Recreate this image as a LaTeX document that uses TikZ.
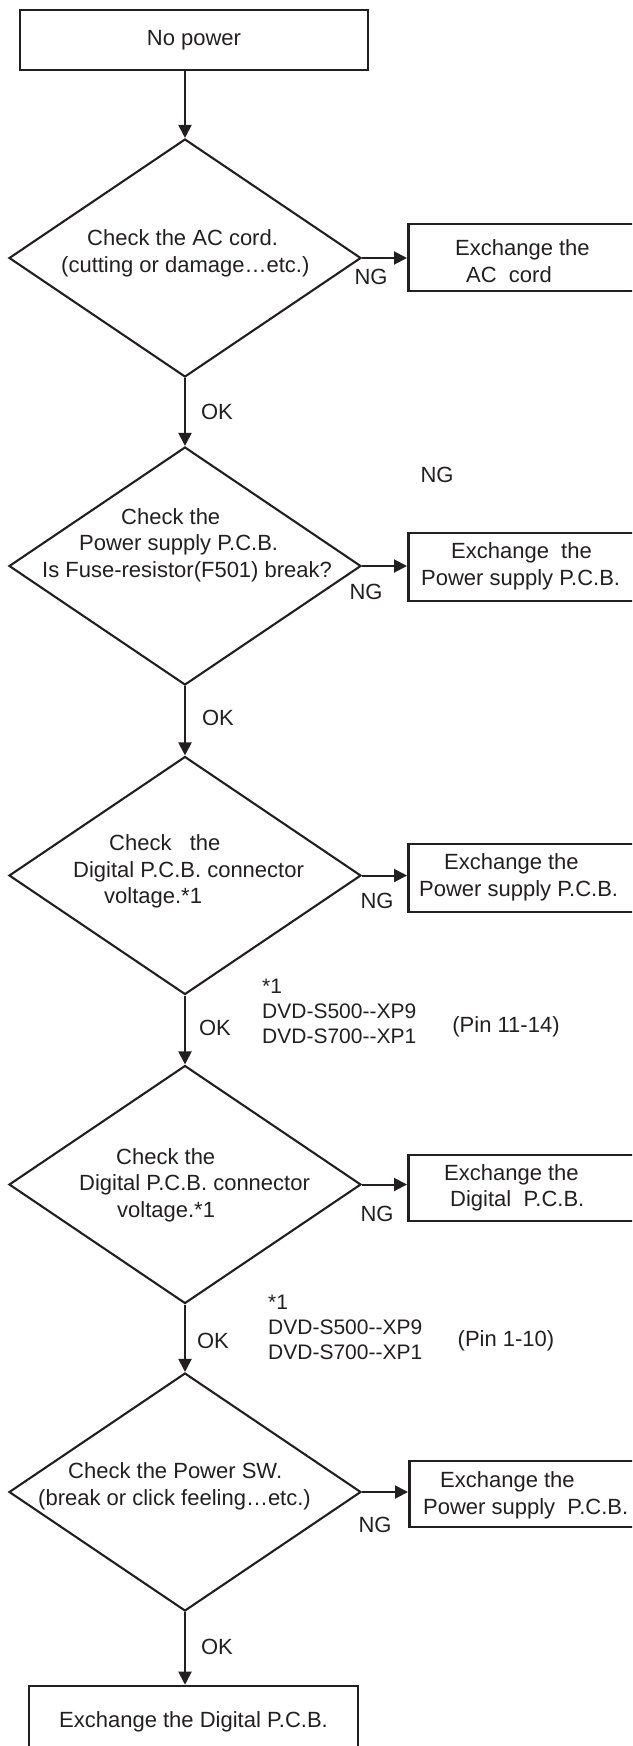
\documentclass[tikz,border=0pt]{standalone}
\usepackage{fontspec}
\setmainfont{Liberation Sans}
\usetikzlibrary{shapes.geometric,arrows.meta}
\definecolor{ink}{RGB}{35,31,32}
\begin{document}
\begin{tikzpicture}[x=1pt,y=-1pt,
  every node/.style={text=ink},
  arr/.style={draw=ink, line width=2pt, -{Triangle[length=13pt,width=13pt]}},
  dec/.style={diamond, draw=ink, line width=2.1pt, minimum width=352pt, minimum height=238pt, inner sep=0pt},
  rbox/.style={rectangle, draw=ink, line width=2.6pt, inner sep=0pt, font=\fontsize{22pt}{26.5pt}\selectfont},
  txt/.style={font=\fontsize{22pt}{26.5pt}\selectfont, inner sep=0pt, align=left, anchor=west},
  lbl/.style={font=\fontsize{22pt}{26.5pt}\selectfont, inner sep=0pt},
  fnote/.style={font=\fontsize{21pt}{25pt}\selectfont, inner sep=0pt, align=left, anchor=west}
]
\useasboundingbox (0,0) rectangle (632,1746);
\clip (0,0) rectangle (632,1746);

% start / end boxes
\node[rbox, minimum width=348pt, minimum height=60pt] (start) at (194,40) {No power};
\node[rbox, minimum width=329pt, minimum height=72pt] (fin) at (193.5,1722) {Exchange the Digital P.C.B.};

% decisions
\node[dec] (d1) at (185,258) {};
\node[dec] (d2) at (185,566) {};
\node[dec] (d3) at (185,875.5) {};
\node[dec] (d4) at (185,1184.5) {};
\node[dec] (d5) at (185,1492) {};

\node[txt] (d1t) at (61,253.5) {\hspace*{26pt}Check the AC cord.\\(cutting or damage…etc.)};
\node[txt] (d2t) at (42,545) {\hspace*{79pt}Check the\\\hspace*{37pt}Power supply P.C.B.\\Is Fuse-resistor(F501) break?};
\node[txt] (d3t) at (73,871.5) {\hspace*{36pt}Check\ \ \ the\\Digital P.C.B. connector\\\hspace*{31pt}voltage.*1};
\node[txt] (d4t) at (79,1185) {\hspace*{37pt}Check the\\Digital P.C.B. connector\\\hspace*{38pt}voltage.*1};
\node[txt] (d5t) at (38,1486.5) {\hspace*{30pt}Check the Power SW.\\(break or click feeling…etc.)};

% right-hand boxes
\node[rbox, anchor=west, minimum width=300pt, minimum height=67pt] (b1) at (407,257.5) {};
\node[rbox, anchor=west, minimum width=300pt, minimum height=68pt] (b2) at (407,567) {};
\node[rbox, anchor=west, minimum width=300pt, minimum height=68pt] (b3) at (407,878) {};
\node[rbox, anchor=west, minimum width=300pt, minimum height=66pt] (b4) at (407,1188) {};
\node[rbox, anchor=west, minimum width=300pt, minimum height=66pt] (b5) at (408,1494) {};

\node[txt] (b1t) at (455,261) {Exchange the\\\hspace*{11pt}AC\ \ cord};
\node[txt] (b2t) at (421,566.5) {\hspace*{30pt}Exchange\ \ the\\Power supply P.C.B.};
\node[txt] (b3t) at (419,877.5) {\hspace*{25pt}Exchange the\\Power supply P.C.B.};
\node[txt] (b4t) at (444,1188) {Exchange the\\\hspace*{6pt}Digital\ \ P.C.B.};
\node[txt] (b5t) at (423,1495.5) {\hspace*{17pt}Exchange the\\Power supply\ \ P.C.B.};

% connectors
\draw[arr] (d1.north |- start.south) -- (d1.north);
\draw[arr] (d1.south) -- (d2.north);
\draw[arr] (d2.south) -- (d3.north);
\draw[arr] (d3.south) -- (d4.north);
\draw[arr] (d4.south) -- (d5.north);
\draw[arr] (d5.south) -- (d5.south |- fin.north);
\draw[arr] (d1.east) -- (b1.west |- d1.east);
\draw[arr] (d2.east) -- (b2.west |- d2.east);
\draw[arr] (d3.east) -- (b3.west |- d3.east);
\draw[arr] (d4.east) -- (b4.west |- d4.east);
\draw[arr] (d5.east) -- (b5.west |- d5.east);

% labels
\node[lbl] (ok1) at (217,412) {OK};
\node[lbl] (ok2) at (218,718) {OK};
\node[lbl] (ok3) at (215,1028) {OK};
\node[lbl] (ok4) at (213,1341) {OK};
\node[lbl] (ok5) at (217,1647) {OK};
\node[lbl] (ng1) at (371,277) {NG};
\node[lbl] (ng2) at (366,592) {NG};
\node[lbl] (ng3) at (377,901) {NG};
\node[lbl] (ng4) at (377,1214) {NG};
\node[lbl] (ng5) at (375,1525) {NG};
\node[lbl] (ngx) at (437,475) {NG};

% footnotes
\node[fnote] (fn1) at (262,1011) {*1\\DVD-S500-{}-XP9\\DVD-S700-{}-XP1};
\node[lbl] (pin1) at (506,1027) {(Pin 11-14)};
\node[fnote] (fn2) at (268,1327.5) {*1\\DVD-S500-{}-XP9\\DVD-S700-{}-XP1};
\node[lbl] (pin2) at (506,1341) {(Pin 1-10)};
\end{tikzpicture}
\end{document}
